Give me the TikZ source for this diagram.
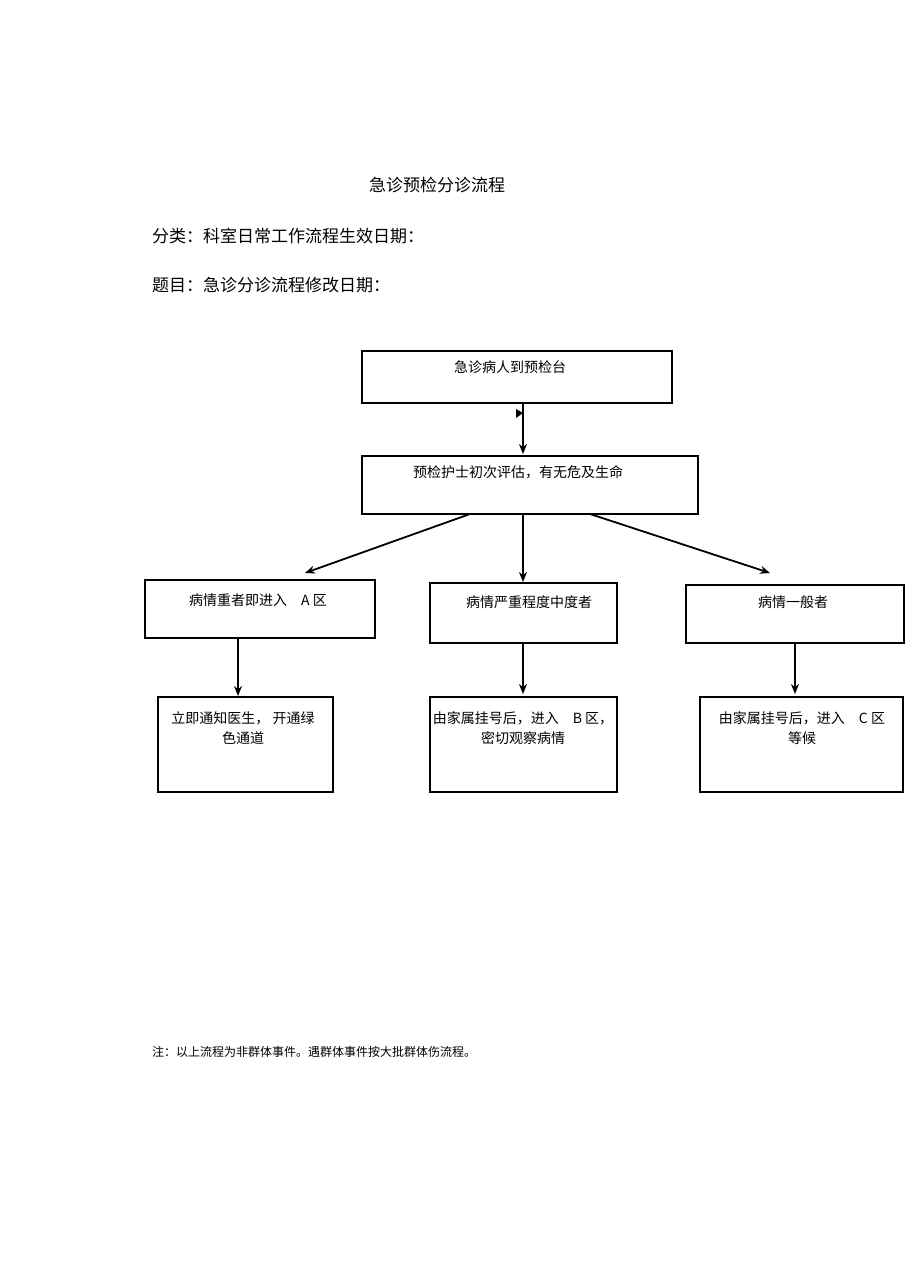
\documentclass[tikz,border=0pt]{standalone}
\usepackage{fontspec}
\setmainfont{Liberation Serif}
\newfontfamily\cjk{Noto Sans CJK SC}
\usetikzlibrary{arrows.meta}
\begin{document}
\begin{tikzpicture}[x=0.5pt,y=-0.5pt,
  bx/.style={draw,line width=0.6pt},
  txt/.style={font=\cjk\fontsize{7}{10}\selectfont,align=center,inner sep=0},
  arr/.style={-{Stealth[length=5pt,width=4pt]},line width=0.9pt}]
\useasboundingbox (0,0) rectangle (920,1288);
\node[font=\cjk\fontsize{8.5}{10}\selectfont] (title) at (437,185) {急诊预检分诊流程};
\node[font=\cjk\fontsize{8.5}{10}\selectfont,anchor=west] (l1) at (145,236) {分类：科室日常工作流程生效日期：};
\node[font=\cjk\fontsize{8.5}{10}\selectfont,anchor=west] (l2) at (145,285) {题目：急诊分诊流程修改日期：};
\node[font=\cjk\fontsize{6}{8}\selectfont,anchor=west] (note) at (145,1052) {注：以上流程为非群体事件。遇群体事件按大批群体伤流程。};
% boxes
\newcommand{\mybox}[5]{%
  \draw[line width=0.6pt] (#1,#2) rectangle (#3,#4);
  \draw[line width=1.2pt] (#3,#2) -- (#3,#4) -- (#1,#4);
  \coordinate (#5) at (#1,#2);}
\mybox{362}{351}{672}{403}{b1}
\mybox{362}{456}{698}{514}{b2}
\mybox{145}{580}{375}{638}{c1}
\mybox{430}{583}{617}{643}{c2}
\mybox{686}{585}{904}{643}{c3}
\mybox{158}{697}{333}{792}{d1}
\mybox{430}{697}{617}{792}{d2}
\mybox{700}{697}{903}{792}{d3}
\node[txt] (t1) at (510,367) {急诊病人到预检台};
\node[txt] (t2) at (518,472) {预检护士初次评估，有无危及生命};
\node[txt] (t3) at (258,600) {病情重者即进入\quad A 区};
\node[txt] (t4) at (529,602) {病情严重程度中度者};
\node[txt] (t5) at (793,602) {病情一般者};
\node[txt] (t6) at (243,728) {立即通知医生，\ 开通绿\\色通道};
\node[txt] (t7) at (523,728) {由家属挂号后，进入\quad B 区，\\密切观察病情};
\node[txt] (t8) at (802,728) {由家属挂号后，进入\quad C 区\\等候};
% arrows
\coordinate (a0) at (523,403); \coordinate (a1) at (523,454);
\draw[arr] (a0) -- (a1);
\fill (516,409) -- (523,413) -- (516,418) -- cycle;
\coordinate (s1) at (470,514); \coordinate (e1) at (305,573);
\coordinate (s2) at (523,514); \coordinate (e2) at (523,582);
\coordinate (s3) at (590,514); \coordinate (e3) at (770,573);
\draw[arr] (s1) -- (e1);
\draw[arr] (s2) -- (e2);
\draw[arr] (s3) -- (e3);
\coordinate (f1) at (238,638); \coordinate (g1) at (238,696);
\coordinate (f2) at (523,643); \coordinate (g2) at (523,694);
\coordinate (f3) at (795,643); \coordinate (g3) at (795,694);
\draw[arr] (f1) -- (g1);
\draw[arr] (f2) -- (g2);
\draw[arr] (f3) -- (g3);
\end{tikzpicture}
\end{document}
